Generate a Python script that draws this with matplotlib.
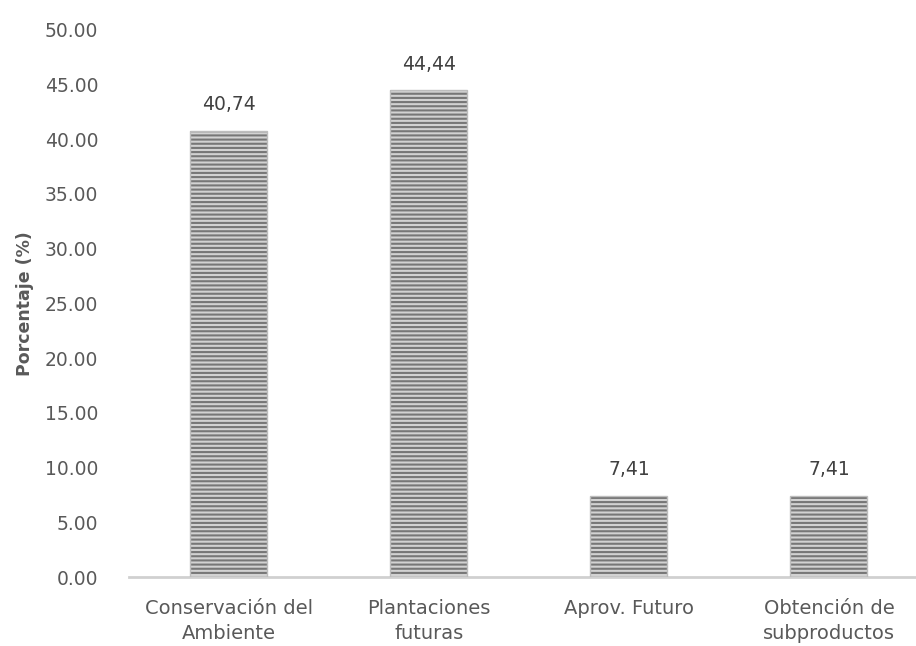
import matplotlib.pyplot as plt

categories = ['Conservación del\nAmbiente', 'Plantaciones\nfuturas',
              'Aprov. Futuro', 'Obtención de\nsubproductos']
values = [40.74, 44.44, 7.41, 7.41]
y_ticks = [0, 5, 10, 15, 20, 25, 30, 35, 40, 45, 50]

TEXT_GRAY = '#595959'
plt.rcParams['font.family'] = ['DejaVu Sans']
plt.rcParams['hatch.linewidth'] = 1.5

fig = plt.figure(figsize=(9.16, 6.46), dpi=100)
ax = fig.add_axes([0.1408, 0.1068, 0.8592, 0.8475])

x = list(range(len(categories)))
ax.bar(x, values, width=0.385, color='#d2d2d2', edgecolor='#777777',
       linewidth=0, hatch='----', zorder=2)
ax.bar(x, values, width=0.385, color='none', edgecolor='#bdbdbd',
       linewidth=1.0, zorder=3)

for xi, v in zip(x, values):
    ax.annotate(f'{v:.2f}'.replace('.', ','), (xi, v), xytext=(0, 19),
                textcoords='offset points', ha='center', va='center',
                fontsize=13.5, color='#404040')

ax.set_xlim(-0.5, 3.435)
ax.set_ylim(0, 50)
ax.set_yticks(y_ticks)
ax.set_yticklabels([f'{t:.2f}' for t in y_ticks])
ax.set_xticks(x)
ax.set_xticklabels(categories, linespacing=1.4)
ax.tick_params(axis='y', length=0, pad=22, labelsize=13.5, labelcolor=TEXT_GRAY)
ax.tick_params(axis='x', length=0, pad=16, labelsize=14, labelcolor=TEXT_GRAY)

for side in ['top', 'right', 'left']:
    ax.spines[side].set_visible(False)
ax.spines['bottom'].set_color('#d0d0d0')
ax.spines['bottom'].set_linewidth(2)

ax.set_ylabel('Porcentaje (%)', fontsize=12.5, fontweight='bold',
              color=TEXT_GRAY, labelpad=8)

fig.savefig('out.png', dpi=100)
